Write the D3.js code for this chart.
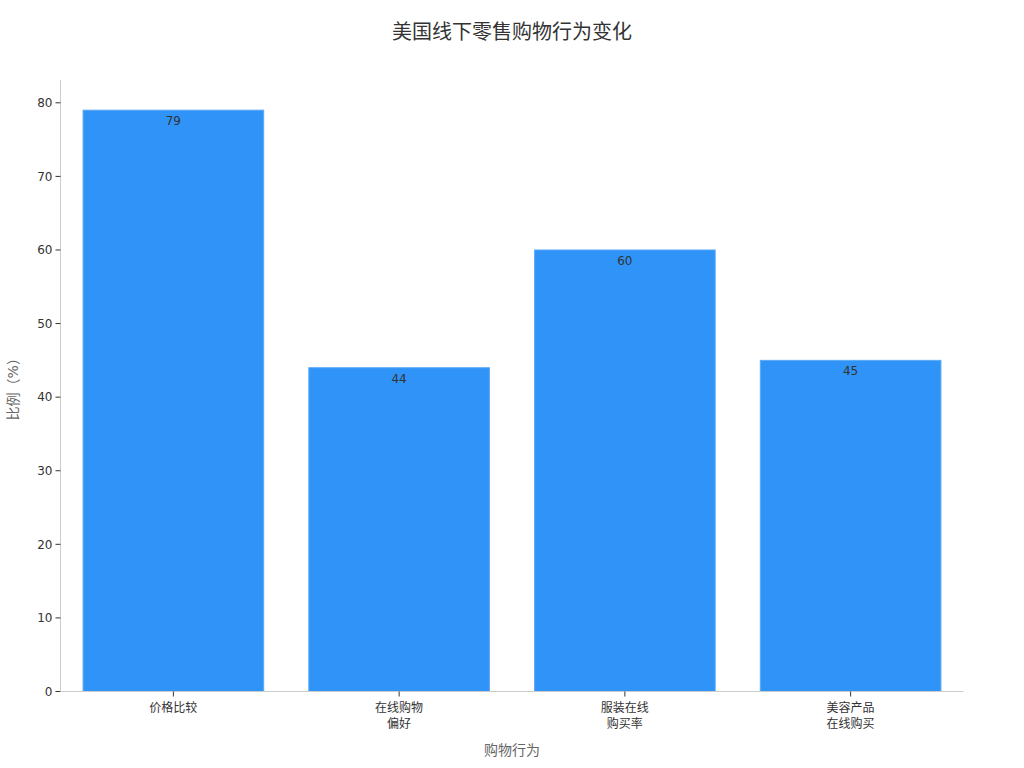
<!DOCTYPE html>
<html><head><meta charset="utf-8">
<script src="https://cdn.jsdelivr.net/npm/d3@7"></script>
<style>body{margin:0;background:#fff;font-family:"DejaVu Sans","Noto Sans CJK SC",sans-serif;}</style>
</head><body><svg id="c" width="1024" height="768"></svg>
<script>
const categories = [["价格比较"],["在线购物","偏好"],["服装在线","购买率"],["美容产品","在线购买"]];
const values = [79, 44, 60, 45];
const yTicks = [0,10,20,30,40,50,60,70,80];
const title = "美国线下零售购物行为变化";
const xTitle = "购物行为";
const yTitle = "比例（%）";

const svg = d3.select("#c");
const m = {l:60.5, r:60.5, t:80, b:76.5};
const W = 1024, H = 768;
const x = d3.scaleBand().domain(categories.map((d,i)=>i)).range([m.l, W-m.r]).paddingInner(0.2).paddingOuter(0.1);
const y = d3.scaleLinear().domain([0, 83.1]).range([H-m.b, m.t]);

svg.append("text").attr("x",512).attr("y",39).attr("text-anchor","middle").attr("font-size",20).attr("fill","#333").text(title);

svg.selectAll("rect.bar").data(values).join("rect").attr("class","bar")
  .attr("x",(d,i)=>x(i)).attr("width",x.bandwidth())
  .attr("y",d=>y(d)).attr("height",d=>y(0)-y(d))
  .attr("fill","#2f93f8").attr("stroke","#5aa9f5").attr("stroke-width",1);

svg.selectAll("text.val").data(values).join("text").attr("class","val")
  .attr("x",(d,i)=>x(i)+x.bandwidth()/2).attr("y",d=>y(d)+15)
  .attr("text-anchor","middle").attr("font-size",12).attr("fill","#333").text(d=>d);

// y axis
const ya = svg.append("g").attr("transform",`translate(${m.l},0)`);
ya.append("line").attr("x1",0).attr("x2",0).attr("y1",m.t).attr("y2",H-m.b).attr("stroke","#ccc");
yTicks.forEach(t=>{
  ya.append("line").attr("x1",-5).attr("x2",0).attr("y1",y(t)).attr("y2",y(t)).attr("stroke","#333");
  ya.append("text").attr("x",-8).attr("y",y(t)).attr("dy","0.35em").attr("text-anchor","end").attr("font-size",12).attr("fill","#333").text(t);
});
// x axis
const xa = svg.append("g").attr("transform",`translate(0,${H-m.b})`);
xa.append("line").attr("x1",m.l).attr("x2",W-m.r).attr("stroke","#ccc");
categories.forEach((c,i)=>{
  const cx = x(i)+x.bandwidth()/2;
  xa.append("line").attr("x1",cx).attr("x2",cx).attr("y1",0).attr("y2",5).attr("stroke","#333");
  c.forEach((line,j)=>{
    xa.append("text").attr("x",cx).attr("y",20+j*16).attr("text-anchor","middle").attr("font-size",12).attr("fill","#333").text(line);
  });
});
svg.append("text").attr("x",(m.l+W-m.r)/2).attr("y",755).attr("text-anchor","middle").attr("font-size",14).attr("fill","#666").text(xTitle);
svg.append("text").attr("transform",`translate(18,${(m.t+H-m.b)/2}) rotate(-90)`).attr("text-anchor","middle").attr("font-size",14).attr("fill","#666").text(yTitle);
</script></body></html>
